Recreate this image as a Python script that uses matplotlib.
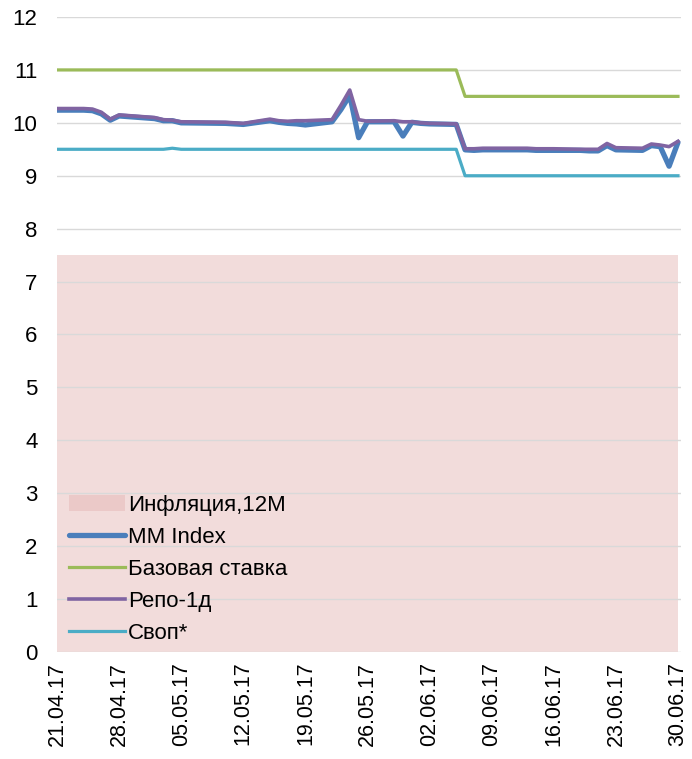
import datetime as dt
import matplotlib
matplotlib.use("Agg")
import matplotlib.pyplot as plt
import matplotlib.dates as mdates

plt.rcParams['font.family'] = ['Liberation Sans', 'DejaVu Sans']

# торговые дни
dates = ["2017-04-21", "2017-04-24", "2017-04-25", "2017-04-26", "2017-04-27", "2017-04-28",
         "2017-05-02", "2017-05-03", "2017-05-04", "2017-05-05", "2017-05-10", "2017-05-11",
         "2017-05-12", "2017-05-15", "2017-05-16", "2017-05-17", "2017-05-18", "2017-05-19",
         "2017-05-22", "2017-05-23", "2017-05-24", "2017-05-25", "2017-05-26", "2017-05-29",
         "2017-05-30", "2017-05-31", "2017-06-01", "2017-06-02", "2017-06-05", "2017-06-06",
         "2017-06-07", "2017-06-08", "2017-06-09", "2017-06-12", "2017-06-13", "2017-06-14",
         "2017-06-15", "2017-06-16", "2017-06-19", "2017-06-20", "2017-06-21", "2017-06-22",
         "2017-06-23", "2017-06-26", "2017-06-27", "2017-06-28", "2017-06-29", "2017-06-30"]
dates = [dt.datetime.strptime(d, "%Y-%m-%d") for d in dates]

repo = [10.27, 10.27, 10.26, 10.20, 10.07, 10.15,
        10.10, 10.06, 10.05, 10.02, 10.01, 10.00,
        9.99, 10.07, 10.04, 10.03, 10.04, 10.04,
        10.06, 10.33, 10.62, 10.06, 10.03, 10.04,
        10.02, 10.02, 10.00, 9.99, 9.98, 9.51,
        9.51, 9.52, 9.52, 9.52, 9.52, 9.51,
        9.51, 9.51, 9.50, 9.50, 9.50, 9.61,
        9.53, 9.52, 9.60, 9.58, 9.55, 9.65]

mm_index = [10.24, 10.24, 10.23, 10.17, 10.05, 10.13,
            10.08, 10.04, 10.04, 10.00, 9.99, 9.98,
            9.97, 10.04, 10.01, 9.99, 9.98, 9.96,
            10.02, 10.25, 10.52, 9.72, 10.02, 10.02,
            9.75, 10.01, 9.99, 9.98, 9.97, 9.49,
            9.48, 9.49, 9.49, 9.49, 9.49, 9.48,
            9.48, 9.48, 9.48, 9.47, 9.47, 9.57,
            9.49, 9.48, 9.57, 9.55, 9.18, 9.63]

base_rate = [11.0] * 29 + [10.5] * 19

swap = [9.50] * 8 + [9.52] + [9.50] * 20 + [9.0] * 19

inflation = [7.5] * 48

fig = plt.figure(figsize=(6.92, 7.59), dpi=100)
ax = fig.add_axes([0.0824, 0.141, 0.9016, 0.8366])

ax.fill_between(dates, 0, inflation, color='#F2DCDB', linewidth=0, zorder=1,
                label='Инфляция,12М')
ax.plot(dates, mm_index, color='#4A7EBB', lw=3.8, zorder=4, label='MM Index',
        solid_capstyle='round', solid_joinstyle='round')
ax.plot(dates, base_rate, color='#9BBB59', lw=2.3, zorder=3, label='Базовая ставка')
ax.plot(dates, repo, color='#8064A2', lw=2.6, zorder=5, label='Репо-1д',
        solid_joinstyle='round')
ax.plot(dates, swap, color='#4BACC6', lw=2.3, zorder=3, label='Своп*')

ax.set_ylim(0, 12)
ax.set_yticks(range(0, 13))
ax.set_xlim(dates[0], dates[-1] + dt.timedelta(hours=8))
ticks = [dates[0] + dt.timedelta(days=7 * i) for i in range(11)]
ax.set_xticks(ticks)
ax.xaxis.set_major_formatter(mdates.DateFormatter('%d.%m.%y'))
plt.setp(ax.get_xticklabels(), rotation=90)

ax.grid(axis='y', color='#D9D9D9', lw=1, zorder=2)
ax.set_axisbelow(False)
for s in ax.spines.values():
    s.set_visible(False)
ax.tick_params(length=0, labelsize=16, pad=7)
ax.tick_params(axis='x', labelsize=15.5)
ax.tick_params(axis='y', pad=14)

leg = ax.legend(loc='lower left', bbox_to_anchor=(-0.005, -0.012), frameon=False,
                fontsize=16, handlelength=2.5, handletextpad=0.15,
                labelspacing=0.5, borderaxespad=0.3)
leg.legend_handles[0].set_facecolor('#EBC9C8')

fig.savefig('out.png', dpi=100)
